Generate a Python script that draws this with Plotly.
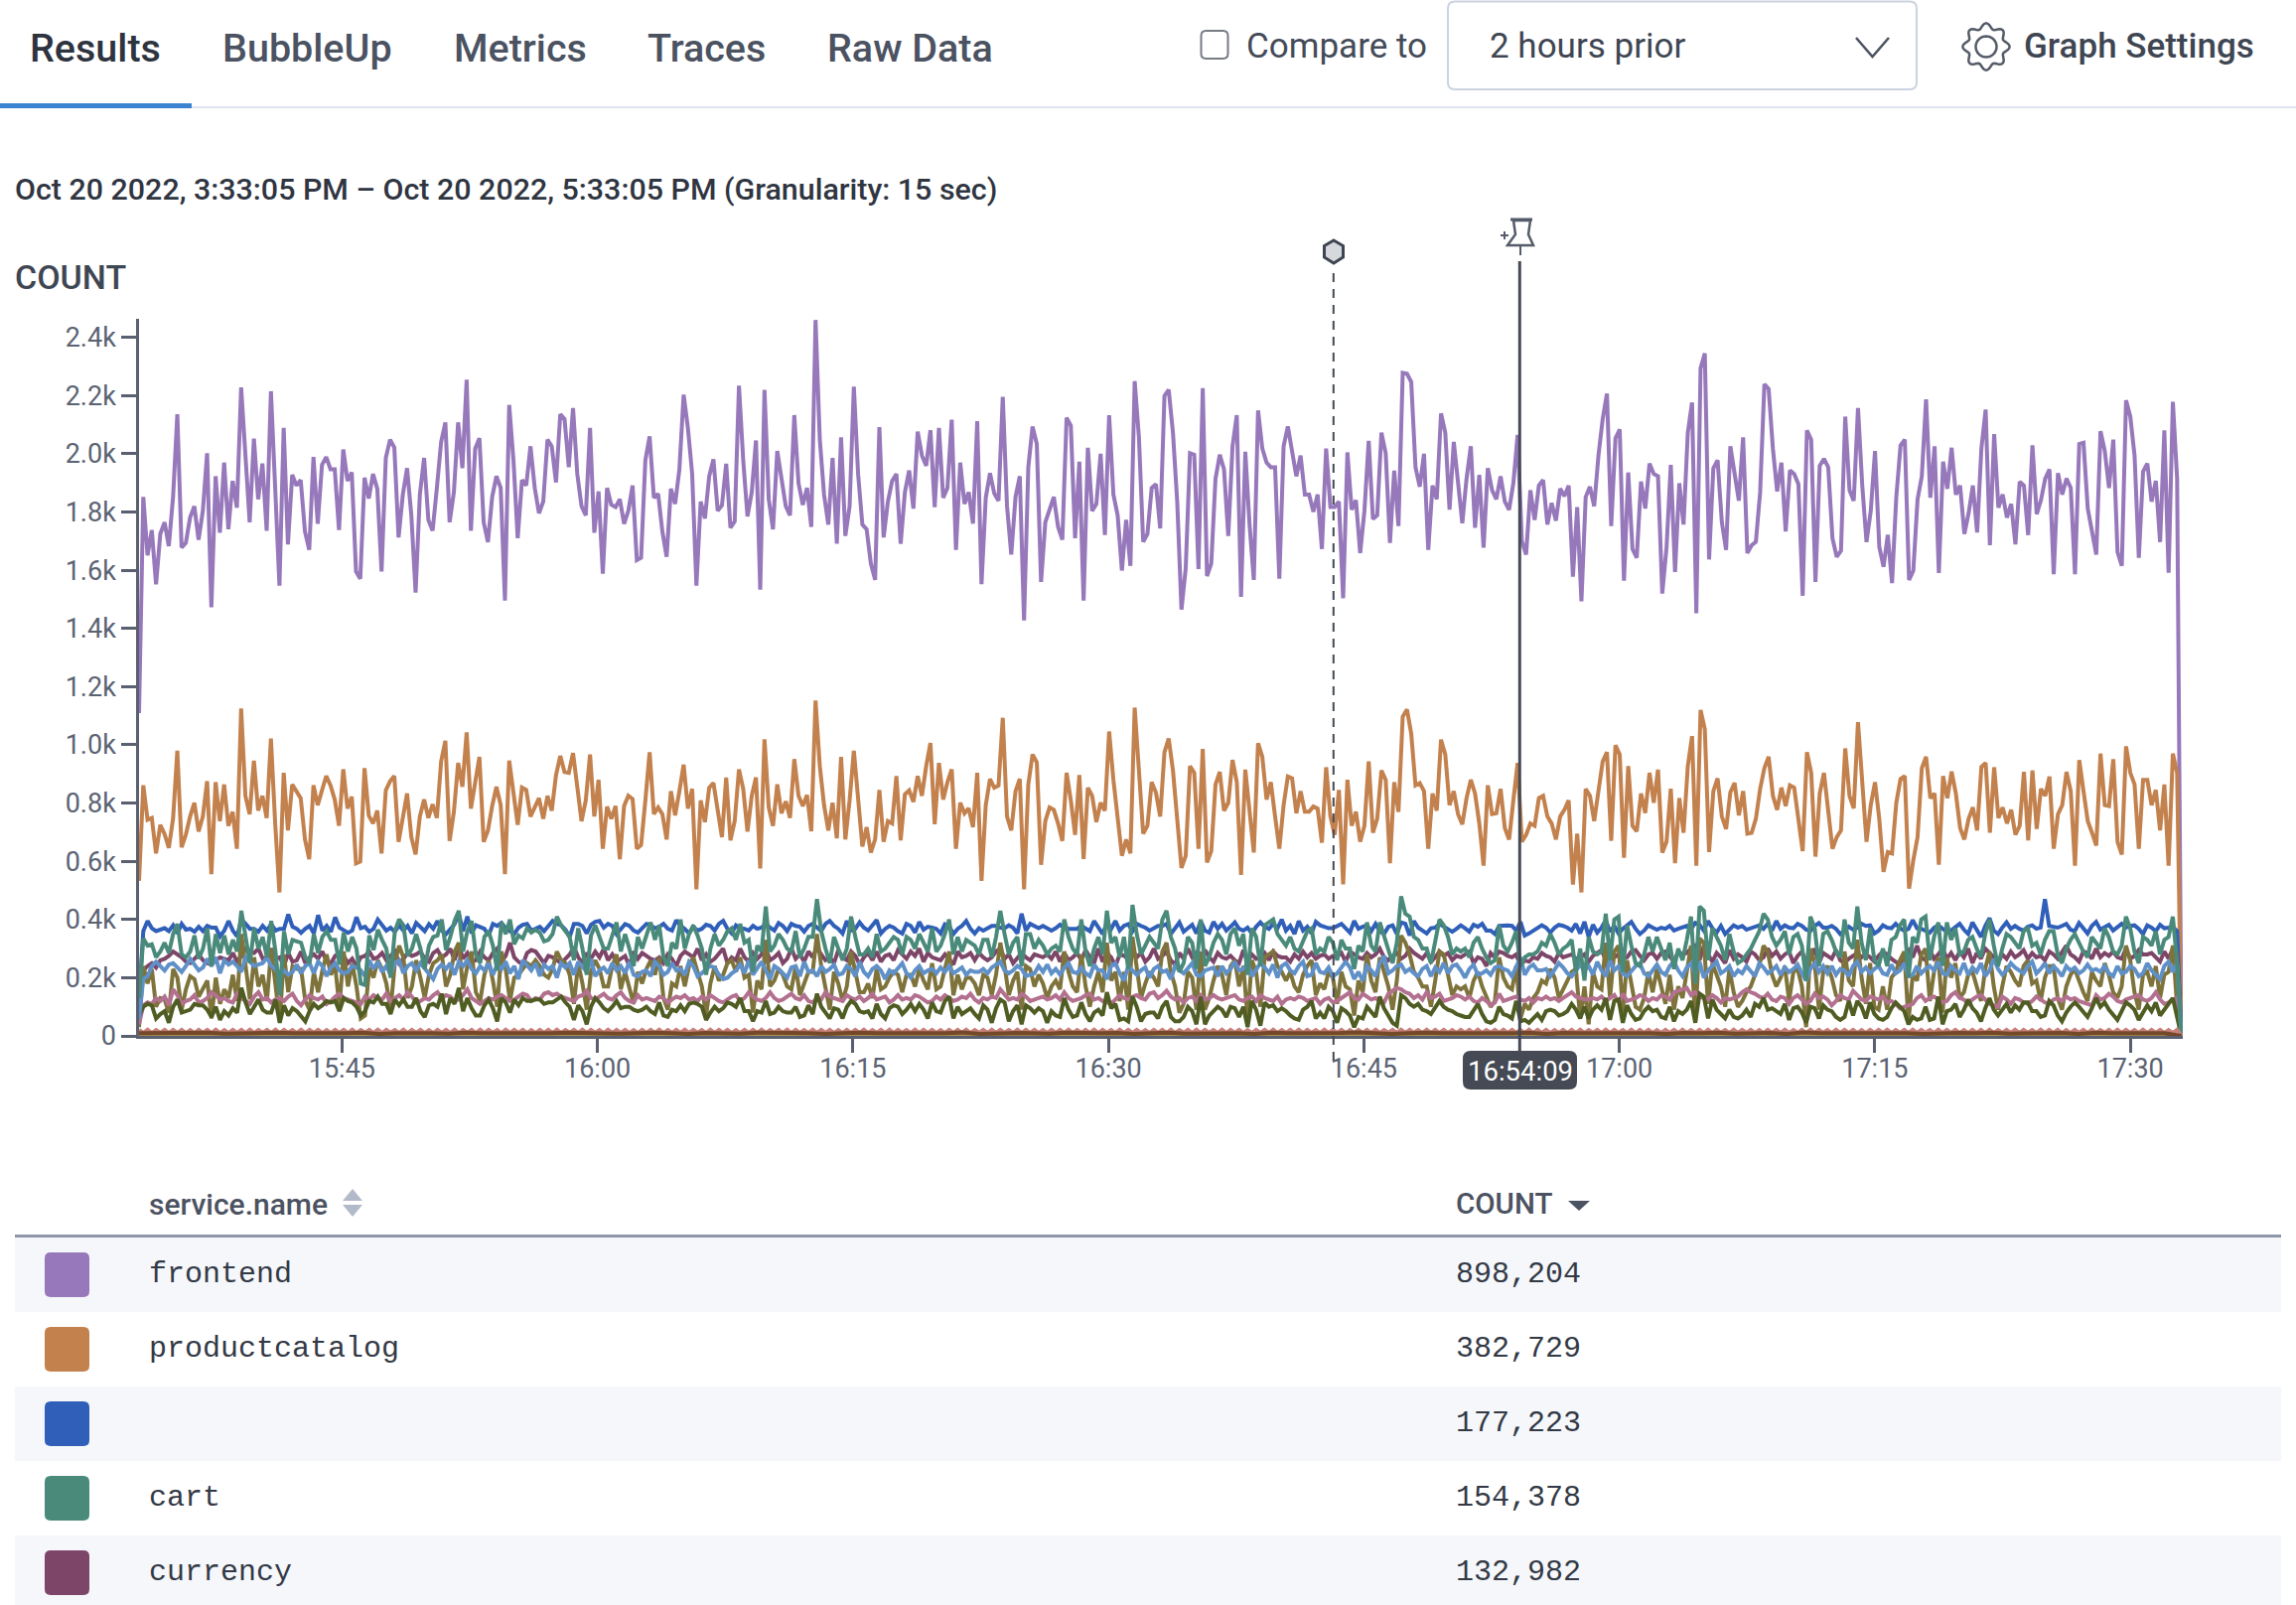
import numpy as np
import pandas as pd
import plotly.graph_objects as go

W, H = 2312, 1616

# time range of the query
t_start = "2022-10-20 15:33:05"
t_end = "2022-10-20 17:33:00"
t_pin = "2022-10-20 16:54:09"
t_mark = "2022-10-20 16:43:13"

# values, 15 sec buckets
frontend = [
    1109,1852,1651,1738,1552,1725,1765,1683,1852,2136,1678,1694,1781,1820,1705,1804,2002,1473,1923,1729,1970,1741,1907,1815,2228,2010,1765,2052,1844,1967,1736,2215,1883,1547,2089,1689,1928,1891,1910,1733,1670,1989,1760,1962,1989,1947,1947,1738,2015,1907,1936,1596,1571,1918,1847,1931,1880,1596,1986,2049,2022,1713,1860,1951,1789,1523,1860,1986,1773,1736,1883,2041,2108,1765,1868,2108,1951,2255,1736,2018,2054,1765,1697,1852,1923,1883,1496,2168,1978,1710,1910,1891,2026,1883,1796,1836,2049,
    2026,1902,2136,2120,1954,2157,1931,1820,1789,2089,1729,1871,1588,1883,1825,1817,1844,1760,1804,1891,1635,1643,1978,2060,1849,1863,1733,1646,1880,1828,1947,2203,2089,1931,1547,1836,1778,1923,1981,1804,1823,1966,1746,1768,2234,1978,1785,1868,2046,1533,2220,1844,1741,2010,1923,1820,1789,2133,1899,1825,1883,1749,2460,2049,1860,1757,1986,1691,2057,1718,1820,2231,1931,1757,1741,1623,1567,2092,1713,1836,1907,1931,1691,1868,1943,1812,2076,1994,1959,2081,1817,2089,1849,1883,2117,
    1670,1970,1828,1868,1760,2112,1552,1849,1934,1864,1839,2196,1820,1654,1852,1923,1428,1954,2094,2034,1560,1765,1812,1852,1749,1705,2124,2097,1710,1973,1496,2021,1804,1828,2000,1721,2133,1860,1789,1599,1773,1615,2250,2057,1698,1725,1883,1896,1744,2199,2220,2073,1836,1465,1607,2002,1997,1604,2226,1580,1623,1915,1997,1947,1718,2026,2133,1509,2007,1757,1567,2149,2018,1970,1954,1954,1571,2026,2094,2010,1923,1994,1860,1860,1801,1860,1673,2018,1817,1817,1836,1504,2005,1808,1841,1659,
    1804,2045,1776,1789,2073,2002,1694,1942,1752,2278,2275,2247,1954,1887,2000,1670,1891,1844,2139,2073,1808,2041,1899,1762,1915,2026,1746,1928,1678,1951,1875,1844,1923,1836,1808,1899,2065,1700,1654,1875,1773,1891,1910,1757,1831,1770,1880,1855,1891,1578,1817,1493,1852,1887,1820,1994,2120,2207,1752,2054,2084,1564,1936,1673,1643,1905,1812,1967,1931,1923,1520,1678,1962,1594,1899,1757,2073,2176,1452,2294,2345,1637,1950,1978,1765,1670,2026,1931,1839,2057,1659,1686,1698,1868,2239,2223,
    2018,1871,1970,1733,1943,1931,1896,1512,2081,2049,1560,1959,1983,1954,1710,1646,1667,2128,1875,1839,2157,1891,1697,1804,2010,1681,1612,1722,1556,1852,2029,2049,1567,1599,1844,1923,2187,1849,2026,1591,1973,1880,2021,1860,1891,1725,1796,1891,1730,2018,2152,1686,2068,1815,1860,1781,1828,1689,1904,1891,1721,2029,1793,1841,1915,1947,1586,1934,1860,1915,1883,1586,2034,2038,1812,1733,1654,2078,2010,1883,2049,1662,1615,2184,2128,1994,1643,1939,1967,1836,1907,1697,2081,1591,2179,1915,0,
]
productcatalog = [
    533,861,743,749,627,725,694,646,746,980,648,691,754,801,702,754,875,556,872,738,864,722,770,643,1125,825,762,946,774,825,749,1022,730,493,904,706,864,841,817,675,607,861,793,844,893,861,812,722,916,781,822,593,599,920,757,730,774,627,844,875,893,667,746,833,683,624,754,812,749,796,749,943,1014,670,770,938,856,1043,781,864,959,667,706,790,856,793,556,946,841,725,853,845,754,785,817,746,825,
    774,896,962,907,904,972,856,738,809,967,754,880,643,788,746,790,607,790,825,814,643,656,809,975,762,785,762,675,841,758,841,932,781,849,504,809,735,853,869,777,683,888,672,738,916,849,702,825,888,575,1019,785,722,864,765,806,749,951,825,790,828,703,1152,927,793,706,801,679,959,675,809,980,801,651,717,630,675,845,667,738,730,893,672,830,844,804,893,825,927,1006,727,938,812,872,916,
    643,801,765,782,717,904,533,793,883,853,860,1093,754,706,841,883,504,864,967,940,588,738,785,777,730,670,904,809,691,896,608,853,825,735,801,774,1046,880,754,619,675,627,1128,888,695,722,872,836,754,975,1022,912,730,577,619,927,904,643,986,596,635,864,907,774,801,948,872,553,915,770,630,1006,959,812,872,754,643,793,891,885,765,841,770,770,788,781,664,923,754,691,845,521,880,722,770,667,
    722,943,698,746,912,880,593,872,770,1097,1122,1038,861,869,841,643,833,774,1018,967,793,841,762,727,817,880,833,730,585,861,762,765,849,714,675,809,938,667,691,730,722,817,825,754,730,675,754,777,809,520,695,493,849,825,738,841,943,975,670,999,967,612,927,722,703,833,766,904,801,915,630,667,849,593,817,698,927,1030,585,1120,1054,632,841,885,754,711,837,869,758,841,695,698,746,849,920,959,
    825,777,853,790,861,853,754,635,975,904,616,833,904,770,643,683,706,988,825,782,1078,872,667,793,872,746,564,632,627,801,883,893,506,604,683,920,959,817,833,588,893,817,908,833,714,675,746,785,706,924,938,698,923,749,785,730,777,691,722,907,672,912,711,849,825,891,643,762,793,907,841,585,948,841,738,698,654,970,793,790,951,667,623,995,904,864,643,880,880,793,845,706,864,585,970,904,0,
]
unnamed = [
    130,360,395,370,360,365,370,360,380,352,385,365,368,358,375,360,378,372,372,342,
    362,395,362,342,400,385,368,368,358,378,362,384,362,368,368,418,375,368,354,368,
    378,352,415,362,378,358,408,372,362,354,362,408,370,375,358,368,400,378,362,372,
    358,380,362,378,352,388,372,360,384,368,395,362,350,368,384,420,360,410,352,380,
    375,368,345,385,378,388,370,360,350,372,382,385,362,368,375,360,378,395,385,380,
    365,340,385,385,378,352,382,392,395,372,385,378,350,368,384,378,362,355,368,385,
    380,370,375,385,368,362,398,378,368,352,375,362,368,382,378,362,385,395,368,352,
    380,370,368,362,378,368,372,385,372,362,388,378,360,385,378,375,358,378,385,372,
    360,385,395,378,368,352,395,362,368,390,372,362,380,398,352,368,378,372,360,352,
    385,378,355,392,365,375,372,368,352,384,378,350,368,378,395,368,352,370,362,372,
    378,378,372,370,380,372,352,420,362,385,378,370,378,370,362,370,382,372,368,368,
    368,378,370,360,395,372,350,388,368,395,362,378,384,360,385,378,372,362,370,378,
    378,385,350,368,390,358,372,382,352,395,362,355,392,368,385,362,375,390,368,362,
    372,352,375,390,375,368,385,370,400,362,378,350,395,362,375,352,392,380,375,370,
    370,378,385,370,355,395,368,375,380,360,385,360,350,375,380,350,390,385,345,395,
    372,362,352,370,372,385,375,368,358,368,380,370,358,382,375,385,362,362,350,378,
    380,380,378,362,392,345,352,362,372,380,372,355,372,382,378,372,362,385,352,392,
    340,382,355,372,398,358,378,352,368,378,392,368,350,362,380,372,365,372,368,378,
    362,368,372,378,368,388,382,362,395,370,355,378,350,365,380,372,378,365,370,378,
    380,368,385,362,395,368,380,372,370,385,378,365,360,378,388,372,372,378,368,350,
    362,375,365,372,385,378,380,352,362,380,372,370,385,370,362,368,398,370,368,362,
    355,372,380,368,358,362,375,385,365,350,390,362,340,378,405,362,350,372,390,368,
    378,368,362,375,380,368,372,470,378,375,372,378,385,365,360,388,370,352,378,392,
    365,372,382,362,375,385,372,378,380,368,350,380,372,360,382,370,372,375,360,0,
]
cart = [
    130,335,310,315,270,290,320,285,350,385,280,270,290,345,265,300,370,240,350,285,
    345,280,330,290,430,340,250,370,300,340,270,395,290,140,360,280,330,325,320,270,
    250,350,285,340,360,330,330,245,355,290,340,300,180,175,345,295,365,330,300,200,
    360,400,380,275,300,350,300,230,310,340,345,400,295,340,395,430,290,360,395,280,
    250,340,360,310,225,390,350,400,315,345,335,370,355,365,355,325,330,350,410,380,
    360,340,260,370,300,210,345,380,340,300,300,345,390,290,350,300,240,340,300,345,
    390,330,380,270,240,320,300,400,300,350,380,345,300,210,300,350,310,330,360,370,
    330,385,320,330,220,310,290,445,290,310,350,330,300,290,360,270,300,340,340,470,
    360,300,250,340,300,260,300,410,340,280,280,300,270,350,290,300,320,340,330,280,
    340,330,300,350,320,290,370,290,310,350,400,280,340,290,330,320,310,280,330,330,
    270,340,430,350,280,320,340,240,350,350,300,330,310,280,300,310,290,400,340,300,
    280,400,290,240,300,340,280,430,320,340,270,340,230,450,350,280,310,340,320,300,
    400,430,340,300,220,250,340,320,230,400,240,270,320,350,330,280,350,370,310,350,
    210,370,340,240,380,390,400,350,330,310,340,300,290,330,360,370,280,300,290,340,
    320,260,330,300,300,230,310,290,390,310,290,390,340,300,250,320,480,420,410,340,
    330,300,300,250,330,400,380,340,280,300,290,300,270,320,340,300,270,250,260,380,
    310,290,320,360,240,270,280,280,290,320,310,350,320,280,300,310,330,220,300,190,
    340,290,280,290,420,260,400,410,220,380,310,250,240,280,340,290,340,300,260,320,
    230,300,260,330,410,180,445,430,260,370,340,310,260,350,290,250,260,280,300,330,
    360,420,400,340,310,330,360,280,340,350,310,190,410,370,240,350,360,330,290,270,
    400,320,300,445,320,260,370,260,240,300,240,330,340,380,400,200,340,320,400,410,
    260,340,390,240,390,330,370,280,290,330,340,300,270,350,400,310,240,300,350,340,
    320,300,360,370,310,320,280,330,360,360,280,250,300,330,350,320,290,270,340,320,
    300,370,340,290,280,310,410,370,290,250,340,330,310,360,280,330,340,410,250,0,
]
currency = [
    90,225,240,250,235,260,265,275,290,280,270,255,250,265,280,260,250,245,260,270,
    265,260,285,255,275,300,290,285,300,265,270,300,265,270,240,285,255,260,290,250,
    270,280,265,290,255,250,275,285,275,250,265,240,270,275,290,265,270,285,260,275,
    290,250,265,285,275,280,290,265,255,285,295,270,280,300,260,310,265,285,255,260,
    290,270,260,285,300,255,275,320,270,255,245,285,295,290,270,250,275,270,260,250,
    265,280,305,270,250,285,265,290,270,300,260,280,255,265,275,240,290,265,285,275,
    265,260,270,250,280,265,240,275,290,280,270,300,260,280,255,265,285,300,250,270,
    260,300,270,255,285,265,280,300,260,270,285,250,265,300,265,280,255,290,270,305,
    280,260,270,250,295,270,260,290,275,245,270,285,260,290,255,275,280,260,295,280,
    265,290,275,300,255,285,270,265,260,280,265,245,290,270,275,285,260,285,270,260,
    270,290,300,265,280,250,270,285,270,260,280,275,270,280,265,290,255,285,260,270,
    285,260,295,270,250,300,255,285,270,240,280,275,265,295,270,285,255,270,300,265,
    275,290,260,245,285,265,300,270,285,255,295,270,255,285,270,265,275,260,250,295,
    255,280,265,270,285,260,290,275,270,270,255,280,265,290,270,285,265,275,280,265,
    275,275,285,255,290,280,270,265,285,270,280,300,270,260,275,285,265,275,300,285,
    275,265,285,255,270,290,275,285,260,275,270,280,290,250,270,265,240,285,270,290,
    285,275,270,280,240,260,255,270,265,285,275,270,255,285,270,275,280,265,270,280,
    255,275,285,295,260,285,270,280,265,270,290,295,275,260,280,285,265,285,290,270,
    255,290,280,285,300,315,260,310,280,255,285,270,250,295,265,280,270,255,290,280,
    260,270,300,275,290,265,280,290,250,275,290,255,265,300,250,285,275,265,295,260,
    250,265,275,285,270,280,270,255,275,290,280,265,255,245,280,295,270,310,270,260,
    295,265,280,300,265,285,260,290,270,300,250,285,265,300,285,270,250,280,265,290,
    270,280,295,265,285,270,275,260,290,280,265,285,310,280,270,255,290,285,265,300,
    270,285,275,290,270,265,300,265,275,295,280,280,285,270,255,290,265,300,285,0,
]
checkout = [
    60,195,205,240,255,240,225,245,250,235,220,240,265,245,225,235,265,240,270,215,
    260,245,255,240,220,270,255,240,245,250,270,240,230,205,225,210,220,245,215,240,
    250,215,255,240,205,235,250,225,215,220,240,235,225,205,260,230,255,220,240,210,
    250,260,215,240,250,225,250,230,215,195,230,245,230,250,210,255,240,260,230,215,
    240,225,250,210,245,230,255,215,240,195,260,240,225,250,205,245,230,240,200,250,
    235,250,210,255,235,220,265,205,225,235,215,250,225,240,215,255,210,205,220,225,
    205,255,240,210,220,250,225,230,210,255,240,205,215,230,240,235,210,195,200,215,
    225,245,215,260,210,230,255,225,195,240,230,215,200,235,240,205,255,220,225,205,
    240,220,230,245,210,215,240,230,205,255,220,205,230,240,225,195,225,215,235,250,
    215,200,225,240,215,225,230,215,235,220,240,215,225,235,210,225,220,220,230,215,
    235,245,255,225,215,225,240,230,205,210,215,240,220,245,215,230,210,235,250,220,
    215,235,215,205,245,225,225,195,240,250,215,190,240,225,210,225,235,200,230,240,
    220,225,195,240,225,215,235,250,210,205,225,230,235,205,240,215,230,255,225,230,
    250,205,230,250,235,215,245,200,240,250,225,215,240,255,205,210,250,220,215,235,
    205,215,235,255,235,195,220,190,240,225,205,250,275,215,225,240,245,220,230,215,
    205,230,240,205,235,220,250,215,240,245,225,200,230,245,210,215,225,210,235,240,
    230,225,205,235,270,210,235,245,225,225,230,205,230,250,235,215,205,225,245,225,
    240,210,255,225,205,260,225,240,215,205,225,240,250,215,205,225,245,220,210,240,
    255,225,205,235,250,210,255,200,225,240,255,215,225,240,205,225,215,240,220,205,
    250,235,215,225,240,210,235,220,230,245,215,190,230,250,220,240,215,240,210,230,
    225,205,240,255,220,235,215,230,240,215,210,245,215,225,250,205,210,240,215,230,
    240,225,255,215,210,240,225,215,250,210,235,220,250,205,225,265,230,210,225,250,
    235,225,215,240,255,215,230,250,215,240,225,205,240,225,235,215,225,245,225,230,
    220,240,215,205,240,215,220,240,230,205,215,250,225,210,195,240,255,220,250,0,
]
shipping = [
    30,240,180,230,100,130,125,80,230,200,90,160,205,195,135,160,190,60,200,110,
    160,130,210,120,350,240,125,270,170,210,120,300,165,50,280,150,240,230,230,120,
    90,220,150,225,280,210,240,100,290,170,250,170,60,70,235,200,260,230,180,90,
    250,310,270,130,170,260,200,130,210,250,260,280,170,210,290,320,160,240,290,150,
    120,210,260,190,100,290,230,120,200,210,230,250,240,260,240,210,200,230,290,260,
    250,210,110,250,180,90,220,260,230,170,170,240,280,160,220,170,110,220,180,230,
    260,210,270,130,90,180,170,240,170,240,270,220,170,70,180,240,190,210,250,260,
    220,270,200,210,80,190,160,330,170,190,230,210,170,160,240,140,180,220,220,350,
    240,170,90,220,180,120,170,290,220,150,150,180,130,230,160,170,200,220,210,150,
    210,210,170,230,190,160,250,160,170,230,290,140,210,160,200,200,180,140,210,200,
    140,210,320,240,140,190,220,90,240,230,170,210,180,130,170,190,160,290,220,170,
    150,280,170,100,170,220,150,320,190,220,120,220,90,340,240,130,180,220,200,170,
    290,320,220,170,80,110,220,200,90,290,90,130,190,240,210,140,240,260,170,240,
    60,260,220,100,270,280,290,240,220,190,220,170,150,210,240,260,140,180,160,220,
    200,110,220,170,160,70,190,150,280,190,150,270,220,170,90,190,345,320,280,220,
    200,170,170,100,190,290,280,210,140,170,160,170,130,190,220,170,130,100,120,270,
    200,170,160,240,60,110,90,130,150,190,180,230,200,130,160,190,220,230,60,170,
    40,220,170,160,320,130,290,310,80,260,180,100,90,130,220,150,230,170,110,210,
    90,170,130,220,310,50,335,320,110,250,210,170,100,230,150,100,120,150,170,210,
    240,310,290,210,170,200,240,120,220,230,170,30,300,250,90,220,240,200,140,120,
    290,190,170,330,200,110,250,100,90,170,90,200,220,260,290,50,210,190,280,300,
    120,220,270,80,270,200,250,130,150,210,220,170,120,230,290,170,90,170,240,220,
    190,170,240,260,180,190,120,200,240,240,130,90,170,210,230,190,150,120,220,190,
    170,250,210,150,130,170,310,260,150,90,210,220,170,240,130,210,220,310,100,0,
]
payment = [
    40,105,115,110,130,120,135,105,160,140,110,120,125,140,115,120,130,150,140,125,
    130,120,115,145,130,120,110,135,150,125,130,115,125,130,120,135,145,120,105,125,
    140,130,125,135,110,120,135,145,130,125,120,115,110,135,125,140,130,125,145,120,
    130,140,125,150,135,115,120,130,125,140,150,130,140,135,120,125,140,160,130,120,
    110,120,130,125,135,140,130,120,125,135,145,140,120,130,125,145,150,140,145,135,
    130,125,120,135,140,155,130,125,135,145,130,125,140,150,130,120,115,140,125,130,
    125,120,135,130,115,125,135,130,140,125,130,120,135,125,140,130,120,115,125,135,
    140,120,130,150,135,125,120,130,150,130,120,125,135,145,130,125,140,120,115,130,
    125,150,135,130,125,120,140,130,125,135,120,130,145,125,130,135,115,125,140,125,
    130,125,140,135,125,115,120,135,125,140,130,120,125,135,130,145,125,115,130,125,
    135,130,160,140,125,130,125,145,135,120,125,130,135,125,130,140,125,150,130,120,
    125,130,140,145,125,130,120,115,110,125,140,130,125,135,140,130,125,145,150,130,
    140,155,135,125,130,115,130,135,120,140,125,130,140,130,125,130,135,140,125,120,
    130,135,120,140,130,125,120,135,110,125,130,125,135,130,120,125,130,110,125,130,
    115,120,130,140,150,130,125,145,135,125,130,120,115,145,155,165,160,150,145,130,
    140,125,150,130,135,145,120,125,130,140,135,125,135,120,115,130,120,105,115,145,
    120,125,130,135,125,120,130,115,130,125,135,125,130,120,130,140,150,135,130,125,
    125,130,125,135,120,130,140,115,145,120,125,130,140,135,120,130,125,140,135,125,
    150,155,160,165,140,150,135,130,125,140,130,115,130,125,130,135,150,160,150,145,
    135,130,145,125,120,135,130,110,130,140,125,110,120,145,130,135,125,105,120,140,
    130,125,155,140,125,120,135,130,125,135,115,120,110,95,100,105,110,130,140,120,
    130,135,125,115,120,140,150,130,125,110,125,135,140,125,110,105,100,135,125,110,
    130,125,115,110,120,135,125,115,110,125,130,120,135,125,130,120,115,110,105,140,
    125,130,145,135,120,115,125,130,135,140,125,120,130,150,125,110,115,125,130,0,
]
email = [
    70,100,110,105,60,75,85,45,100,125,80,85,90,110,105,105,90,65,100,55,
    85,70,95,80,165,115,75,100,125,90,80,80,125,45,105,70,95,85,65,50,
    85,110,95,105,120,115,120,85,130,120,115,100,70,85,120,115,135,110,110,75,
    125,105,125,100,100,130,85,65,105,110,100,145,75,130,110,165,85,130,95,70,
    70,105,125,95,50,130,115,80,125,105,130,120,120,125,125,110,115,115,125,135,
    115,100,55,105,85,40,100,130,115,95,85,100,120,95,100,100,90,85,90,100,
    85,75,115,70,65,90,85,105,85,110,115,110,100,55,80,100,85,95,115,110,
    100,130,85,85,50,85,80,120,75,80,100,85,80,80,100,65,70,105,75,145,
    100,80,60,95,90,60,100,120,110,85,80,85,60,110,75,60,95,105,100,75,
    90,110,85,110,90,60,115,85,80,120,135,60,100,75,85,95,75,60,105,90,
    45,95,125,115,50,85,105,40,105,95,80,95,85,45,85,70,65,130,90,65,
    70,115,75,50,80,90,70,150,95,110,55,60,50,135,100,50,75,80,80,60,
    100,120,65,50,50,65,100,85,40,135,40,70,85,100,90,65,100,95,65,100,
    30,120,90,35,115,100,105,85,95,85,70,60,55,90,100,120,60,80,60,100,
    85,45,95,85,70,30,65,60,100,80,65,135,95,70,45,35,140,130,110,100,
    110,90,85,75,95,120,100,90,85,75,70,65,65,85,110,75,50,45,55,100,
    75,70,60,120,50,55,45,60,75,55,85,90,85,70,75,85,110,90,60,100,
    60,90,105,90,130,55,120,125,45,105,75,55,60,85,100,85,90,65,60,100,
    50,85,75,90,120,45,145,135,60,125,90,75,60,90,65,60,70,90,65,110,
    100,130,90,95,85,75,110,55,95,100,80,45,100,95,60,105,90,85,65,55,
    65,120,70,120,100,60,115,75,60,55,65,95,115,100,85,40,65,55,60,100,
    55,60,135,40,85,90,110,65,90,125,95,80,50,95,130,90,70,90,110,80,
    105,90,115,115,85,85,65,70,120,105,70,50,80,100,115,100,80,65,95,130,
    100,115,90,70,55,85,115,105,90,55,80,105,85,115,70,90,110,130,65,0,
]
ad = [
    21,10,21,10,20,11,21,10,21,11,21,10,20,10,21,11,21,10,21,10,
    20,10,21,11,21,10,21,10,20,11,21,10,21,10,21,11,20,10,21,10,
    21,11,21,10,20,10,21,11,21,10,21,10,20,11,21,10,21,10,21,11,
    20,10,21,10,21,11,21,10,20,10,21,11,21,10,21,10,20,11,21,10,
    21,10,21,11,20,10,21,10,21,11,21,10,20,10,21,11,21,10,21,10,
    20,11,21,10,21,10,21,11,20,10,21,10,21,11,21,10,20,10,21,11,
    21,10,21,10,20,11,21,10,21,10,21,11,20,10,21,10,21,11,21,10,
    20,10,21,11,21,10,21,10,20,11,21,10,21,10,21,11,20,10,21,10,
    21,11,21,10,20,10,21,11,21,10,21,10,20,11,21,10,21,10,21,11,
    20,10,21,10,21,11,21,10,20,10,21,11,21,10,21,10,20,11,21,10,
    21,10,21,11,20,10,21,10,21,11,21,10,20,10,21,11,21,10,21,10,
    20,11,21,10,21,10,21,11,20,10,21,10,21,11,21,10,20,10,21,11,
    21,10,21,10,20,11,21,10,21,10,21,11,20,10,21,10,21,11,21,10,
    20,10,21,11,21,10,21,10,20,11,21,10,21,10,21,11,20,10,21,10,
    21,11,21,10,20,10,21,11,21,10,21,10,20,11,21,10,21,10,21,11,
    20,10,21,10,21,11,21,10,20,10,21,11,21,10,21,10,20,11,21,10,
    21,10,21,11,20,10,21,10,21,11,21,10,20,10,21,11,21,10,21,10,
    20,11,21,10,21,10,21,11,20,10,21,10,21,11,21,10,20,10,21,11,
    21,10,21,10,20,11,21,10,21,10,21,11,20,10,21,10,21,11,21,10,
    20,10,21,11,21,10,21,10,20,11,21,10,21,10,21,11,20,10,21,10,
    21,11,21,10,20,10,21,11,21,10,21,10,20,11,21,10,21,10,21,11,
    20,10,21,10,21,11,21,10,20,10,21,11,21,10,21,10,20,11,21,10,
    21,10,21,11,20,10,21,10,21,11,21,10,20,10,21,11,21,10,21,10,
    20,11,21,10,21,10,21,11,20,10,21,10,21,11,21,10,20,10,21,0,
]
# slower, near-zero services, one value a minute
recommendation = [
    4,3,6,2,3,5,3,1,4,6,3,2,4,3,5,3,2,4,6,3,3,2,5,4,3,1,3,6,4,3,
    2,4,5,3,3,2,6,4,3,3,5,2,3,4,3,6,3,1,4,5,3,2,3,6,4,3,2,5,3,4,
    3,2,4,6,3,3,5,1,3,4,6,2,3,5,3,4,2,3,6,3,4,3,1,5,3,2,4,6,3,3,
    5,2,4,3,3,6,1,4,5,3,3,2,4,6,3,5,2,3,4,3,6,1,3,5,3,4,2,3,3,0,
]
quote = [
    9,10,8,9,11,8,10,9,11,9,8,10,9,11,7,9,10,9,8,11,9,9,10,7,9,11,9,10,8,9,
    11,9,7,10,9,8,11,9,10,9,7,9,11,9,8,10,9,9,12,7,9,10,9,8,11,9,9,10,7,9,
    11,8,9,10,9,7,11,9,9,8,10,12,9,7,9,11,9,10,8,9,9,11,7,10,9,9,8,11,9,7,
    10,9,11,8,9,10,7,12,9,9,8,10,11,9,7,9,10,9,11,8,9,9,10,7,11,9,8,10,9,0,
]

series_order = [
    (frontend, "#9678bb"), (productcatalog, "#c3814e"), (unnamed, "#2f5fb9"),
    (currency, "#7d4568"), (shipping, "#7f733c"), (payment, "#b3708f"),
    (email, "#4f5c22"), (checkout, "#5f90c8"), (cart, "#4a8a7a"),
    (recommendation, "#a89050"), (ad, "#c8807a"), (quote, "#74492a"),
]

# axes
x_ticks = ["2022-10-20 15:45", "2022-10-20 16:00", "2022-10-20 16:15", "2022-10-20 16:30",
           "2022-10-20 16:45", "2022-10-20 17:00", "2022-10-20 17:15", "2022-10-20 17:30"]
x_tick_labels = ["15:45", "16:00", "16:15", "16:30", "16:45", "17:00", "17:15", "17:30"]
y_ticks = [0, 200, 400, 600, 800, 1000, 1200, 1400, 1600, 1800, 2000, 2200, 2400]
y_tick_labels = ["0", "0.2k", "0.4k", "0.6k", "0.8k", "1.0k", "1.2k", "1.4k", "1.6k", "1.8k", "2.0k", "2.2k", "2.4k"]

# table under the chart
table_names = ["frontend", "productcatalog", "", "cart", "currency"]
table_counts = ["898,204", "382,729", "177,223", "154,378", "132,982"]
table_colors = ["#9678bb", "#c3814e", "#2f5fb9", "#4a8a7a", "#7d4568"]

tabs = [("Results", 31, "#2d333f"), ("BubbleUp", 225, "#4b5261"), ("Metrics", 458, "#4b5261"),
        ("Traces", 653, "#4b5261"), ("Raw Data", 834, "#4b5261")]


def px(x):
    return x / W


def py(y):
    return 1 - y / H


def poly(points, close=True):
    d = "M " + " L ".join(f"{px(a):.5f},{py(b):.5f}" for a, b in points)
    return d + (" Z" if close else "")


def rrect(x0, y0, x1, y1, r):
    # rounded rectangle as a path in paper coords
    c = [(x0 + r, y0), (x1 - r, y0), (x1, y0 + r), (x1, y1 - r), (x1 - r, y1), (x0 + r, y1), (x0, y1 - r), (x0, y0 + r)]
    corners = [(x1, y0), (x1, y1), (x0, y1), (x0, y0)]
    p = lambda q: f"{px(q[0]):.5f},{py(q[1]):.5f}"
    return (f"M {p(c[0])} L {p(c[1])} Q {p(corners[0])} {p(c[2])} L {p(c[3])} Q {p(corners[1])} {p(c[4])} "
            f"L {p(c[5])} Q {p(corners[2])} {p(c[6])} L {p(c[7])} Q {p(corners[3])} {p(c[0])} Z")


shapes = []
notes = []


def add_path(path, fill=None, line=None, width=0, layer="above"):
    shapes.append(dict(type="path", path=path, xref="paper", yref="paper", layer=layer,
                       fillcolor=fill if fill else "rgba(0,0,0,0)",
                       line=dict(color=line if line else "rgba(0,0,0,0)", width=width)))


def add_text(text, x, y, size, color="#3f4653", family="Roboto", weight=400, anchor="left"):
    notes.append(dict(text=text, x=px(x), y=py(y), xref="paper", yref="paper", xanchor=anchor, yanchor="middle",
                      showarrow=False, font=dict(family=family, size=size, color=color, weight=weight)))


# top tabs
for name, x0, col in tabs:
    add_text(name, x0 - 3, 48, 39.5, col, weight=500)
add_path(poly([(0, 107), (W, 107), (W, 109), (0, 109)]), fill="#dfe3ee")
add_path(poly([(0, 104), (193, 104), (193, 109), (0, 109)]), fill="#3b82d0")

# compare to
add_path(rrect(1209.5, 31, 1236.5, 59, 5), fill="#ffffff", line="#777b84", width=2)
add_text("Compare to", 1253, 46, 35, "#444b58")
add_path(rrect(1458, 1.5, 1930, 90, 7), fill="#ffffff", line="#cbd2e0", width=2)
add_text("2 hours prior", 1498, 46, 35, "#3f4653")
add_path(poly([(1869, 38), (1885.5, 57), (1902, 38)], close=False), line="#4b5261", width=2.5)

# gear
ang = np.linspace(0, 2 * np.pi, 97)
rad = 21 + 2.6 * np.cos(8 * ang)
add_path(poly([(2000 + r * np.sin(a), 47 - r * np.cos(a)) for a, r in zip(ang, rad)]), line="#555c69", width=2.5)
ang = np.linspace(0, 2 * np.pi, 41)
add_path(poly([(2000 + 10.5 * np.sin(a), 47 - 10.5 * np.cos(a)) for a in ang]), line="#555c69", width=2.5)
add_text("Graph Settings", 2036, 46, 35, "#3f4653", weight=500)

add_text("Oct 20 2022, 3:33:05 PM – Oct 20 2022, 5:33:05 PM (Granularity: 15 sec)", 13, 190, 30.4, "#2f3541", weight=500)
add_text("COUNT", 13, 279, 34, "#3f4653", weight=500)

# marker above the dashed line
add_path(poly([(1343, 242), (1352.5, 247.5), (1352.5, 259), (1343, 265), (1333.5, 259), (1333.5, 247.5)]),
         fill="#d5d8dd", line="#3f4550", width=3)
# pin icon
add_path(poly([(1521, 221), (1543, 221)], close=False), line="#555c69", width=3)
add_path(poly([(1524, 222), (1541, 222), (1539, 236), (1544, 247), (1518, 247), (1526, 236)]), fill="#ffffff", line="#555c69", width=2.5)
add_path(poly([(1531, 247), (1531, 257)], close=False), line="#555c69", width=2)
add_path(poly([(1511, 237), (1519, 237)], close=False), line="#555c69", width=2)
add_path(poly([(1515, 233), (1515, 241)], close=False), line="#555c69", width=2)

# time pill
add_path(rrect(1473, 1058, 1588, 1097, 8), fill="#454a54")
add_text("16:54:09", 1530.5, 1078, 27.5, "#ffffff", anchor="center")

# table head
add_text("service.name", 148, 1212, 30, "#4b5261", weight=500)
add_path(poly([(355, 1197), (365, 1209), (345, 1209)]), fill="#b2bac9")
add_path(poly([(345, 1213), (365, 1213), (355, 1225)]), fill="#b2bac9")
add_text("COUNT", 1464, 1212, 29.5, "#4b5261", weight=500)
add_path(poly([(1579, 1209), (1601, 1209), (1590, 1219)]), fill="#4b5261")
add_path(poly([(15, 1243), (2297, 1243), (2297, 1246), (15, 1246)]), fill="#8f96a8")

row_h = 75
for i, (name, cnt, col) in enumerate(zip(table_names, table_counts, table_colors)):
    top = 1246 + i * row_h
    if i % 2 == 0:
        add_path(poly([(15, top), (2297, top), (2297, top + row_h), (15, top + row_h)]), fill="#f5f7fb", layer="below")
    add_path(rrect(45, top + 15, 90, top + 60, 6), fill=col)
    if name:
        add_text(name, 148, top + 37, 30, "#333945", family="Liberation Mono")
    add_text(cnt, 1464, top + 37, 30, "#333945", family="Liberation Mono")

# crosshair and event line, on the time axis
shapes.append(dict(type="line", xref="x", yref="paper", x0=t_mark, x1=t_mark, y0=py(1068), y1=py(268), layer="above",
                   line=dict(color="#444a55", width=2, dash="9px,7px")))
shapes.insert(0, dict(type="line", xref="x", yref="paper", x0=t_pin, x1=t_pin, y0=py(1058), y1=py(263), layer="above",
                      line=dict(color="#454a56", width=3)))

fig = go.Figure()
for vals, col in series_order:
    fig.add_trace(go.Scatter(x=pd.date_range(t_start, t_end, periods=len(vals)), y=vals, mode="lines",
                             line=dict(color=col, width=4), hoverinfo="skip", cliponaxis=False))

fig.update_layout(
    width=W, height=H,
    margin=dict(l=0, r=0, t=0, b=0),
    paper_bgcolor="#ffffff", plot_bgcolor="rgba(0,0,0,0)",
    showlegend=False,
    shapes=shapes, annotations=notes,
    xaxis=dict(type="date", domain=[140 / W, 2198 / W], range=[t_start, "2022-10-20 17:33:05"], automargin=False,
               tickmode="array", tickvals=x_ticks, ticktext=x_tick_labels,
               showgrid=False, zeroline=False, showline=True, linecolor="#5a6070", linewidth=2.5,
               ticks="outside", ticklen=14, tickwidth=2.5, tickcolor="#5a6070", ticklabelstandoff=-7,
               tickfont=dict(family="Roboto", size=27, color="#5b6373")),
    yaxis=dict(domain=[py(1043), py(321)], range=[0, 2464], automargin=False,
               tickmode="array", tickvals=y_ticks, ticktext=y_tick_labels,
               showgrid=False, zeroline=False, showline=True, linecolor="#5a6070", linewidth=2.5,
               ticks="outside", ticklen=15, tickwidth=2.5, tickcolor="#5a6070",
               tickfont=dict(family="Roboto", size=27, color="#5b6373")),
)

fig.write_html("out.html", config={"displayModeBar": False},
               post_script="document.body.style.margin='0';document.documentElement.style.overflow='hidden';")
